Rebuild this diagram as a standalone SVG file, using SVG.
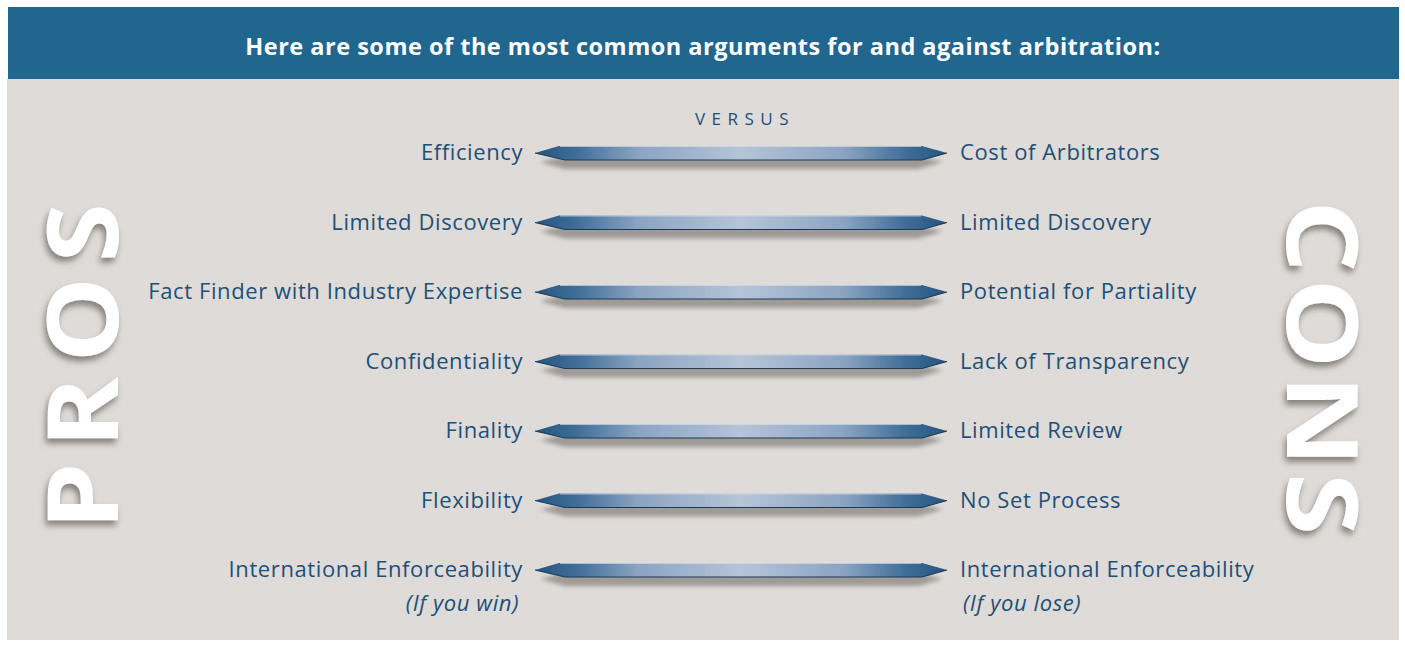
<svg xmlns="http://www.w3.org/2000/svg" width="1405" height="645" viewBox="0 0 1405 645">
  <defs>
    <style>
      .title { font-family: "Open Sans", "Liberation Sans", sans-serif; font-weight: 700; font-size: 23.5px; letter-spacing: 0.5px; fill: #ffffff; }
      .lbl { font-family: "Open Sans", "Liberation Sans", sans-serif; font-size: 22px; letter-spacing: 0.6px; fill: #1d5079; }
      .lbl-l { text-anchor: end; }
      .note { font-style: italic; }
      .versus { font-family: "Open Sans", "Liberation Sans", sans-serif; font-size: 17px; letter-spacing: 6.5px; fill: #1d5079; }
      .big { font-family: "Open Sans", "Liberation Sans", sans-serif; font-weight: 700; font-size: 98px; fill: #ffffff; }
      .bar { fill: url(#barGrad); }
      .bar-edge { fill: none; stroke: #1b3a57; stroke-width: 1.2; }
      .bar-hi { fill: none; stroke: #d7e0ea; stroke-width: 1; opacity: 0.7; }
      .bar-shadow { fill: #8f8a86; opacity: 0.8; filter: url(#soft); }
    </style>
    <linearGradient id="barGrad" x1="535" y1="0" x2="947" y2="0" gradientUnits="userSpaceOnUse">
      <stop offset="0" stop-color="#24557f"/>
      <stop offset="0.1" stop-color="#3f6d98"/>
      <stop offset="0.25" stop-color="#8ba4c2"/>
      <stop offset="0.5" stop-color="#b6c4d8"/>
      <stop offset="0.75" stop-color="#8ba4c2"/>
      <stop offset="0.9" stop-color="#3f6d98"/>
      <stop offset="1" stop-color="#24557f"/>
    </linearGradient>
    <filter id="soft" x="-5%" y="-100%" width="110%" height="300%">
      <feGaussianBlur stdDeviation="2.2"/>
    </filter>
    <filter id="letterShadow" x="-20%" y="-20%" width="140%" height="140%">
      <feDropShadow dx="-2" dy="5" stdDeviation="3" flood-color="#6e6a66" flood-opacity="0.8"/>
    </filter>
    <!-- double-pointed bar centred on y=0 -->
    <g id="barShape">
      <polygon class="bar-shadow" points="540,9 565,3 918,3 943,9 918,16 565,16"/>
      <polygon class="bar" points="535,0 559,-7 922,-7 947,0 922,7 565,7"/>
      <polyline class="bar-hi" points="560,-6.5 921,-6.5"/>
      <polyline class="bar-edge" points="535,0 565,7 922,7 947,0"/>
    </g>
  </defs>

  <!-- page -->
  <rect x="0" y="0" width="1405" height="645" fill="#ffffff"/>
  <rect x="7" y="79" width="1392" height="561" fill="#dfdbd8"/>

  <!-- heading band -->
  <g id="header">
    <rect x="8" y="7" width="1391" height="72" fill="#20668f"/>
    <text class="title" x="703" y="55" text-anchor="middle">Here are some of the most common arguments for and against arbitration:</text>
  </g>

  <!-- side captions -->
  <g id="pros" filter="url(#letterShadow)">
    <text class="big" transform="translate(118,530) rotate(-90) scale(1.1,1)" letter-spacing="13">PROS</text>
  </g>
  <g id="cons" filter="url(#letterShadow)">
    <text class="big" transform="translate(1287,200) rotate(90) scale(1.16,1)" letter-spacing="5">CONS</text>
  </g>

  <text class="versus" x="745" y="125" text-anchor="middle">VERSUS</text>

  <!-- connector bars between each pro and con -->
  <g id="connectors">
    <use href="#barShape" transform="translate(0,153)"/>
    <use href="#barShape" transform="translate(0,222.5)"/>
    <use href="#barShape" transform="translate(0,292)"/>
    <use href="#barShape" transform="translate(0,361.5)"/>
    <use href="#barShape" transform="translate(0,431)"/>
    <use href="#barShape" transform="translate(0,500.5)"/>
    <use href="#barShape" transform="translate(0,570)"/>
  </g>

  <!-- pros column -->
  <g id="pro-1"><text class="lbl lbl-l" x="523" y="160">Efficiency</text></g>
  <g id="pro-2"><text class="lbl lbl-l" x="523" y="229.5">Limited Discovery</text></g>
  <g id="pro-3"><text class="lbl lbl-l" x="523" y="299">Fact Finder with Industry Expertise</text></g>
  <g id="pro-4"><text class="lbl lbl-l" x="523" y="368.5">Confidentiality</text></g>
  <g id="pro-5"><text class="lbl lbl-l" x="523" y="438">Finality</text></g>
  <g id="pro-6"><text class="lbl lbl-l" x="523" y="507.5">Flexibility</text></g>
  <g id="pro-7">
    <text class="lbl lbl-l" x="523" y="577">International Enforceability</text>
    <text class="lbl lbl-l note" x="519" y="611">(If you win)</text>
  </g>

  <!-- cons column -->
  <g id="con-1"><text class="lbl" x="960" y="160">Cost of Arbitrators</text></g>
  <g id="con-2"><text class="lbl" x="960" y="229.5">Limited Discovery</text></g>
  <g id="con-3"><text class="lbl" x="960" y="299">Potential for Partiality</text></g>
  <g id="con-4"><text class="lbl" x="960" y="368.5">Lack of Transparency</text></g>
  <g id="con-5"><text class="lbl" x="960" y="438">Limited Review</text></g>
  <g id="con-6"><text class="lbl" x="960" y="507.5">No Set Process</text></g>
  <g id="con-7">
    <text class="lbl" x="960" y="577">International Enforceability</text>
    <text class="lbl note" x="963" y="611">(If you lose)</text>
  </g>
</svg>
